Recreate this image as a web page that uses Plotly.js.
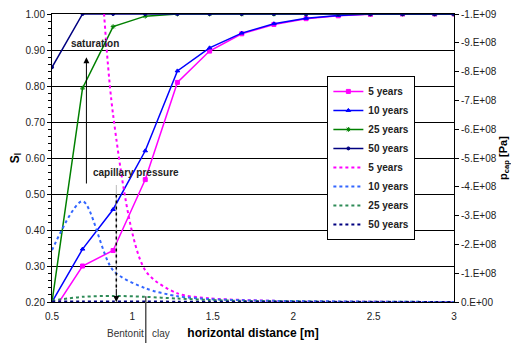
<!DOCTYPE html>
<html><head><meta charset="utf-8">
<script src="https://cdn.plot.ly/plotly-3.0.1.min.js"></script>
<style>html,body{margin:0;padding:0;background:#fff}#chart{width:511px;height:343px}</style>
</head><body><div id="chart"></div>
<script>
// horizontal distance [m]
const xDist = [0.5, 0.69, 0.88, 1.08, 1.28, 1.48, 1.68, 1.88, 2.08, 2.28, 2.48, 2.68, 2.88, 3.0];
// saturation S_l
const sat5  = [0.17, 0.30, 0.343, 0.54, 0.81, 0.897, 0.945, 0.971, 0.987, 0.995, 0.999, 1.0, 1.0, 1.0];
const sat10 = [0.20, 0.347, 0.457, 0.62, 0.842, 0.906, 0.947, 0.973, 0.988, 0.996, 1.0, 1.0, 1.0, 1.0];
const sat25 = [0.20, 0.794, 0.965, 0.994, 1.0, 1.0, 1.0, 1.0, 1.0, 1.0, 1.0, 1.0, 1.0, 1.0];
const sat50 = [0.852, 1.0, 1.0, 1.0, 1.0, 1.0, 1.0, 1.0, 1.0, 1.0, 1.0, 1.0, 1.0, 1.0];
// capillary pressure p_cap [Pa]
const pc5  = [null, -2.5e9, -0.65e9, -0.11e9, -0.03e9, -0.013e9, -0.007e9, -0.004e9, -0.002e9, -0.001e9, -0.001e9, 0, 0, 0];
const pc10 = [-0.18e9, -0.35e9, -0.11e9, -0.048e9, -0.02e9, -0.01e9, -0.006e9, -0.004e9, -0.003e9, -0.002e9, -0.001e9, -0.001e9, 0, 0];
const pc25 = [-0.005e9, -0.018e9, -0.021e9, -0.018e9, -0.012e9, -0.007e9, -0.004e9, -0.003e9, -0.002e9, -0.001e9, -0.001e9, -0.001e9, 0, 0];
const pc50 = [-0.002e9, -0.002e9, -0.002e9, -0.002e9, -0.001e9, -0.001e9, -0.001e9, -0.001e9, 0, 0, 0, 0, 0, 0];
const seriesNames = ['5 years', '10 years', '25 years', '50 years'];
// right axis ticks
const p2Ticks  = [0, -1e8, -2e8, -3e8, -4e8, -5e8, -6e8, -7e8, -8e8, -9e8, -1e9];
const p2Labels = ['0.E+00', '-1.E+08', '-2.E+08', '-3.E+08', '-4.E+08', '-5.E+08', '-6.E+08', '-7.E+08', '-8.E+08', '-9.E+08', '-1.E+09'];

const F = 'Liberation Sans, Arial, sans-serif';
const solidCols = ['#FF00FF', '#0000FF', '#008000', '#000080'];
const dotCols = ['#FF00FF', '#3366FF', '#2E8B57', '#000080'];
const markers = ['square', 'triangle-up', 'asterisk-open', 'circle'];
const msize = [4, 4, 4, 3];
const sats = [sat5, sat10, sat25, sat50];
const pcs = [pc5, pc10, pc25, pc50];

const traces = [];
for (let i = 0; i < 4; i++) {
  traces.push({
    x: xDist, y: sats[i], name: seriesNames[i], type: 'scatter', mode: 'lines+markers',
    line: {color: solidCols[i], width: 1.5},
    marker: {symbol: markers[i], size: msize[i], color: solidCols[i], line: {color: solidCols[i], width: 1}},
    yaxis: 'y', cliponaxis: true
  });
}
for (let i = 0; i < 4; i++) {
  traces.push({
    x: xDist, y: pcs[i], name: seriesNames[i], type: 'scatter', mode: 'lines',
    line: {color: dotCols[i], width: 2, dash: '3px,3px', shape: 'spline', smoothing: 0.8},
    yaxis: 'y2', connectgaps: false
  });
}

const layout = {
  width: 511, height: 343,
  margin: {l: 52, r: 57, t: 14, b: 41, pad: 0},
  paper_bgcolor: '#fff', plot_bgcolor: '#fff',
  font: {family: F, size: 10, color: '#222'},
  showlegend: true,
  legend: {
    x: 0.685, y: 0.785, xanchor: 'left', yanchor: 'top',
    bgcolor: '#fff', bordercolor: '#000', borderwidth: 1,
    font: {family: F, size: 10, color: '#222', weight: 'bold'},
    tracegroupgap: 0, itemwidth: 30
  },
  xaxis: {
    range: [0.5, 3], dtick: 0.5, tick0: 0.5, showgrid: false, zeroline: false,
    showline: true, linecolor: '#000', linewidth: 1, mirror: true,
    ticks: '', ticklabelstandoff: 5, tickfont: {family: F, size: 10, color: '#222'},
    title: {text: 'horizontal distance [m]', font: {family: F, size: 12, color: '#000', weight: 'bold'}, standoff: 7}
  },
  yaxis: {
    range: [0.2, 1.0], dtick: 0.1, tick0: 0.2, tickformat: '.2f',
    showgrid: true, gridcolor: '#000', gridwidth: 1, zeroline: false,
    showline: true, linecolor: '#000', linewidth: 1,
    ticks: 'outside', ticklen: 4, tickcolor: '#000',
    minor: {dtick: 0.02, ticks: 'outside', ticklen: 3, tickcolor: '#000', showgrid: false},
    tickfont: {family: F, size: 10, color: '#222'},
    title: {text: 'S<sub>l</sub>', font: {family: F, size: 12, color: '#000', weight: 'bold'}, standoff: 3}
  },
  yaxis2: {
    overlaying: 'y', side: 'right', range: [0, -1e9],
    tickvals: p2Ticks, ticktext: p2Labels,
    showgrid: false, zeroline: false,
    showline: true, linecolor: '#000', linewidth: 1,
    ticks: 'outside', ticklen: 4, tickcolor: '#000',
    tickfont: {family: F, size: 10, color: '#222'},
    title: {text: 'p<sub>cap</sub> [Pa]', font: {family: F, size: 11, color: '#000', weight: 'bold'}, standoff: 6}
  },
  shapes: [
    {type: 'line', xref: 'x', yref: 'paper', x0: 1.083, x1: 1.083, y0: -0.15, y1: 0.02, line: {color: '#555', width: 1.5}},
    {type: 'line', xref: 'x', yref: 'y', x0: 0.9, x1: 0.9, y0: 0.2, y1: 0.525, line: {color: '#bbb', width: 1}},
    {type: 'line', xref: 'x', yref: 'y', x0: 0.9, x1: 0.9, y0: 0.24, y1: 0.50, line: {color: '#000', width: 1.5, dash: 'dot'}}
  ],
  annotations: [
    {x: 0.714, y: 0.88, ax: 0.714, ay: 0.525, xref: 'x', yref: 'y', axref: 'x', ayref: 'y', text: '', showarrow: true, arrowhead: 2, arrowsize: 1.2, arrowwidth: 1, arrowcolor: '#000'},
    {x: 0.9, y: 0.2, ax: 0.9, ay: 0.24, xref: 'x', yref: 'y', axref: 'x', ayref: 'y', text: '', showarrow: true, arrowhead: 2, arrowsize: 1.2, arrowwidth: 1, arrowcolor: '#000'},
    {x: 0.77, y: 0.917, xref: 'x', yref: 'y', xanchor: 'center', yanchor: 'middle', text: 'saturation', showarrow: false, font: {family: F, size: 10, color: '#222', weight: 'bold'}},
    {x: 1.025, y: 0.56, xref: 'x', yref: 'y', xanchor: 'center', yanchor: 'middle', text: 'capillary pressure', showarrow: false, font: {family: F, size: 10, color: '#222', weight: 'bold'}},
    {x: 0.958, y: -0.108, xref: 'x', yref: 'paper', xanchor: 'center', yanchor: 'middle', text: 'Bentonit', showarrow: false, font: {family: F, size: 10, color: '#333'}},
    {x: 1.177, y: -0.108, xref: 'x', yref: 'paper', xanchor: 'center', yanchor: 'middle', text: 'clay', showarrow: false, font: {family: F, size: 10, color: '#333'}}
  ]
};

Plotly.newPlot('chart', traces, layout, {displayModeBar: false, staticPlot: true});
</script>
</body></html>
